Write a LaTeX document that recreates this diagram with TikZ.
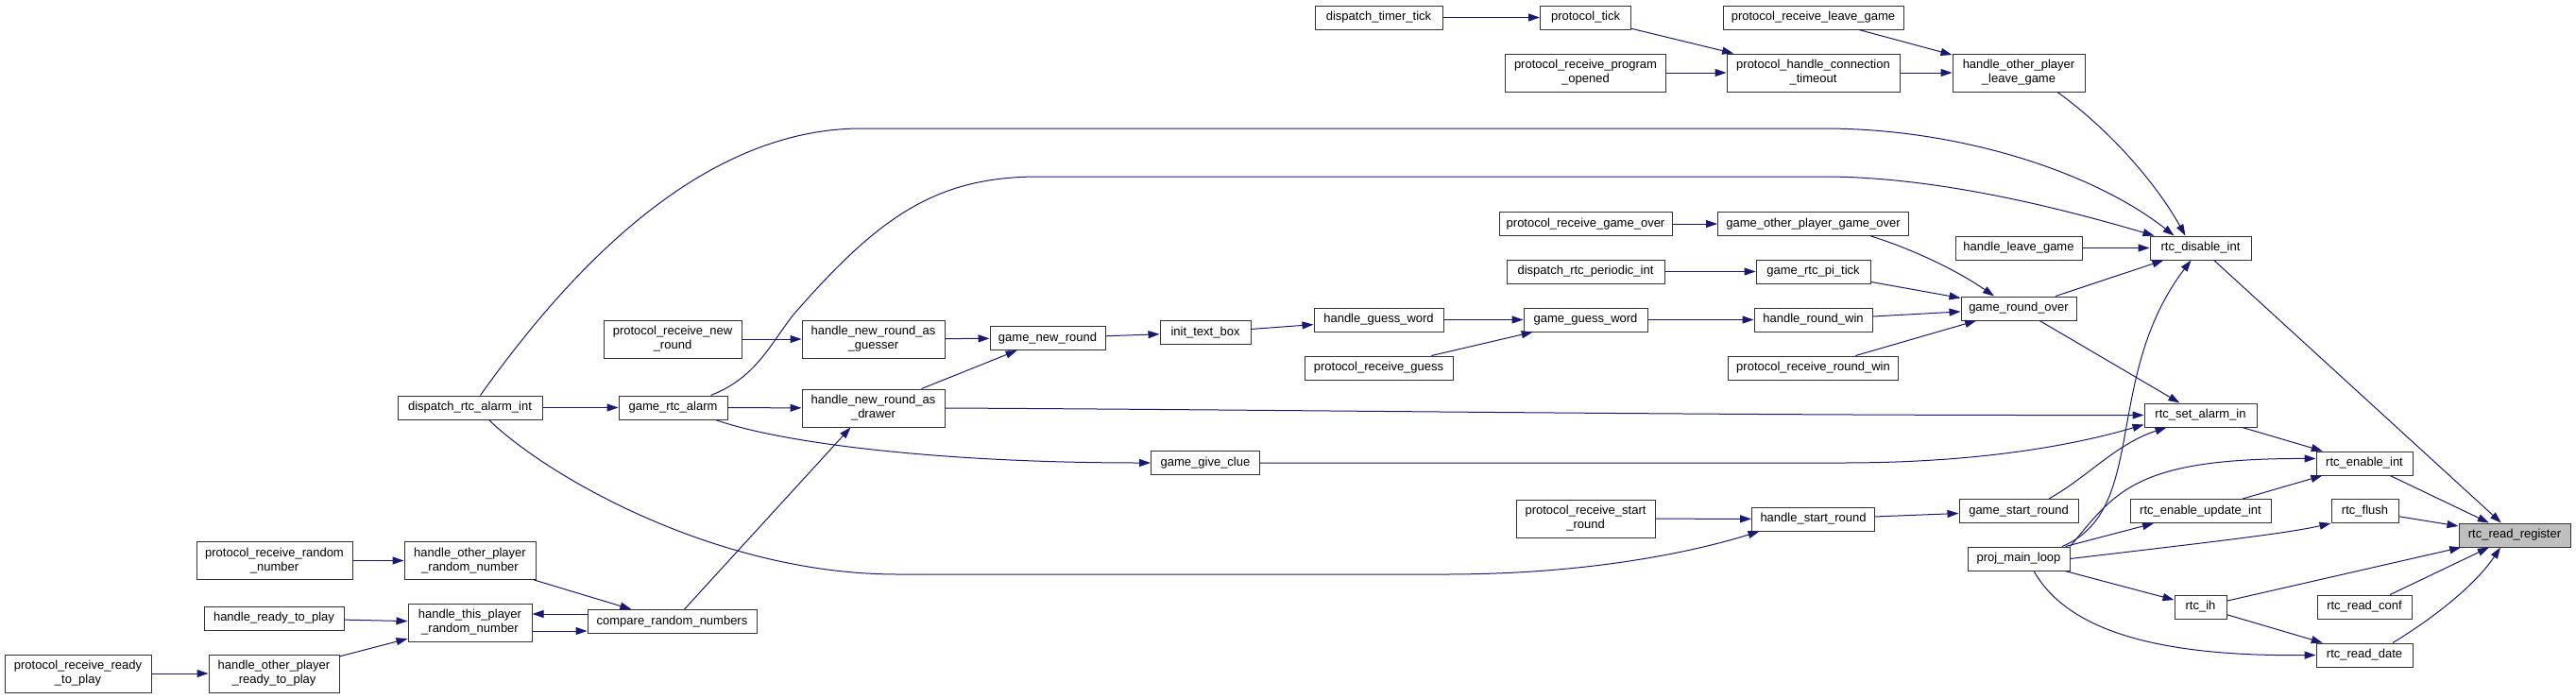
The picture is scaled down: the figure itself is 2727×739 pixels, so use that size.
\documentclass[tikz,border=0pt]{standalone}
\usepackage{fontspec}
\setmainfont{Liberation Sans}
\usetikzlibrary{arrows.meta, calc, positioning}
\definecolor{callblue}{HTML}{191970}
\definecolor{rootgray}{HTML}{BFBFBF}

\begin{document}
\begin{tikzpicture}[x=1pt, y=-1pt,
    fn/.style={draw=black!80, fill=white, line width=1pt, inner sep=0pt,
        minimum height=25, align=center, font=\fontsize{13}{15}\selectfont},
    tall/.style={minimum height=40},
    call/.style={draw=callblue, line width=1pt, -{Triangle[length=12pt, width=8pt]}}]
    \useasboundingbox (0,0) rectangle (2727,739);

    % rtc_read_register and the rtc functions
    \node[fn, fill=rootgray, minimum width=118] (rrr) at (2662,566.5) {rtc\_read\_register};
    \node[fn, minimum width=107] (rdi) at (2329.5,262.5) {rtc\_disable\_int};
    \node[fn, minimum width=119] (rsai) at (2329.5,439.5) {rtc\_set\_alarm\_in};
    \node[fn, minimum width=149] (reui) at (2329.5,541) {rtc\_enable\_update\_int};
    \node[fn, minimum width=55] (rih) at (2329.5,642.5) {rtc\_ih};
    \node[fn, minimum width=102] (rei) at (2503,490.5) {rtc\_enable\_int};
    \node[fn, minimum width=71] (rfl) at (2503.5,541) {rtc\_flush};
    \node[fn, minimum width=100] (rrc) at (2503,642.5) {rtc\_read\_conf};
    \node[fn, minimum width=102] (rrd) at (2503,693.5) {rtc\_read\_date};

    % column of game functions
    \node[fn, tall, minimum width=140] (hoplg) at (2137,77) {handle\_other\_player\\\_leave\_game};
    \node[fn, minimum width=134] (hlg) at (2137,262.5) {handle\_leave\_game};
    \node[fn, minimum width=122] (gro) at (2137,326.5) {game\_round\_over};
    \node[fn, minimum width=126] (gsr) at (2137,541) {game\_start\_round};
    \node[fn, minimum width=108] (pml) at (2137,591.5) {proj\_main\_loop};

    % protocol and handlers
    \node[fn, minimum width=191] (prlg) at (1919.5,18.5) {protocol\_receive\_leave\_game};
    \node[fn, tall, minimum width=183] (phct) at (1919.5,77) {protocol\_handle\_connection\\\_timeout};
    \node[fn, minimum width=202] (gopgo) at (1919.5,237) {game\_other\_player\_game\_over};
    \node[fn, minimum width=121] (grpt) at (1919.5,287.5) {game\_rtc\_pi\_tick};
    \node[fn, minimum width=125] (hrw) at (1919.5,338.5) {handle\_round\_win};
    \node[fn, minimum width=180] (prrw) at (1919.5,389.5) {protocol\_receive\_round\_win};
    \node[fn, minimum width=130] (hsr) at (1919.5,549.5) {handle\_start\_round};

    \node[fn, minimum width=96] (ptick) at (1678.5,18.5) {protocol\_tick};
    \node[fn, tall, minimum width=170] (prpo) at (1678.5,77) {protocol\_receive\_program\\\_opened};
    \node[fn, minimum width=183] (prgo) at (1678.5,237) {protocol\_receive\_game\_over};
    \node[fn, minimum width=167] (drpi) at (1678.5,287.5) {dispatch\_rtc\_periodic\_int};
    \node[fn, minimum width=131] (ggw) at (1678.5,338.5) {game\_guess\_word};
    \node[fn, tall, minimum width=147] (prsr) at (1678.5,549) {protocol\_receive\_start\\\_round};

    \node[fn, minimum width=135] (dtt) at (1459.5,18.5) {dispatch\_timer\_tick};
    \node[fn, minimum width=137] (hgw) at (1459.5,338.5) {handle\_guess\_word};
    \node[fn, minimum width=157] (prg) at (1459.5,389.5) {protocol\_receive\_guess};

    \node[fn, minimum width=96] (itb) at (1276,352) {init\_text\_box};
    \node[fn, minimum width=115] (ggc) at (1276,490) {game\_give\_clue};
    \node[fn, minimum width=122] (gnr) at (1109,358) {game\_new\_round};

    \node[fn, tall, minimum width=151] (hnrg) at (924.5,359) {handle\_new\_round\_as\\\_guesser};
    \node[fn, tall, minimum width=151] (hnrd) at (924.5,432) {handle\_new\_round\_as\\\_drawer};
    \node[fn, tall, minimum width=146] (prnr) at (712,359) {protocol\_receive\_new\\\_round};
    \node[fn, minimum width=115] (gra) at (712.5,431.5) {game\_rtc\_alarm};
    \node[fn, minimum width=179] (crn) at (711.5,658) {compare\_random\_numbers};
    \node[fn, minimum width=153] (draint) at (497.5,431.5) {dispatch\_rtc\_alarm\_int};

    % random number exchange
    \node[fn, tall, minimum width=139] (hoprn) at (497.5,593.5) {handle\_other\_player\\\_random\_number};
    \node[fn, tall, minimum width=131] (htprn) at (497.5,659) {handle\_this\_player\\\_random\_number};
    \node[fn, tall, minimum width=165] (prrn) at (290.5,593.5) {protocol\_receive\_random\\\_number};
    \node[fn, minimum width=148] (hrtp) at (290,654.5) {handle\_ready\_to\_play};
    \node[fn, tall, minimum width=138] (hoprtp) at (290,713) {handle\_other\_player\\\_ready\_to\_play};
    \node[fn, tall, minimum width=155] (prrtp) at (82.5,713) {protocol\_receive\_ready\\\_to\_play};

    % calls towards rtc_disable_int
    \draw[call] (dtt) -- (ptick);
    \draw[call] (ptick) -- (phct);
    \draw[call] (prpo) -- (phct);
    \draw[call] (prlg) -- (hoplg);
    \draw[call] (phct) -- (hoplg);
    \draw[call] ([xshift=41pt]hoplg.south) .. controls (2230,135) and (2280,190) .. ([xshift=-16pt]rdi.north);
    \draw[call] ([xshift=11pt]draint.north) .. controls (600,290) and (740,136) .. (912,136)
        -- (1930,136) .. controls (2080,136) and (2220,185) .. ([xshift=-28pt]rdi.north);
    \draw[call] ([xshift=40pt]gra.north) .. controls (800,400) and (815,365) .. (840,333)
        .. controls (930,230) and (990,187) .. (1100,187) -- (1930,187)
        .. controls (2050,187) and (2180,220) .. ([xshift=-49pt]rdi.north);
    \draw[call] (hlg) -- (rdi);
    \draw[call] (gro) -- (rdi);
    \draw[call] ([xshift=46pt]pml.north) .. controls (2275,540) and (2225,400) .. ([xshift=-10pt]rdi.south);
    \draw[call] (rdi) -- (rrr);

    % calls towards game_round_over
    \draw[call] (prgo) -- (gopgo);
    \draw[call] ([xshift=61pt]gopgo.south) .. controls (2020,262) and (2070,285) .. ([xshift=-26pt]gro.north);
    \draw[call] (drpi) -- (grpt);
    \draw[call] (grpt) -- (gro);
    \draw[call] (hrw) -- (gro);
    \draw[call] (prrw) -- (gro);
    \draw[call] (gro) -- (rsai);

    % guessing and new rounds
    \draw[call] (hgw) -- (ggw);
    \draw[call] (prg) -- (ggw);
    \draw[call] (ggw) -- (hrw);
    \draw[call] (itb) -- (hgw);
    \draw[call] (gnr) -- (itb);
    \draw[call] (hnrg) -- (gnr);
    \draw[call] (hnrd) -- (gnr);
    \draw[call] (prnr) -- (hnrg);
    \draw[call] (draint) -- (gra);
    \draw[call] (gra) -- (hnrd);
    \draw[call] ([xshift=45pt]gra.south) .. controls (830,470) and (1000,490) .. (ggc.west);
    \draw[call] (hnrd.east) .. controls (1400,434) and (1800,440) .. (rsai.west);
    \draw[call] (ggc.east) -- (1950,490) .. controls (2100,490) and (2200,470) .. ([yshift=3pt]rsai.south west);
    \draw[call] ([xshift=32pt]gsr.north) .. controls (2210,505) and (2240,470) .. ([xshift=-36pt]rsai.south);

    % rtc_enable_int, rtc_flush, rtc_ih, rtc_read_date
    \draw[call] (rsai) -- (rei);
    \draw[call] (pml.north east) .. controls (2240,520) and (2260,485) .. ([yshift=5pt]rei.west);
    \draw[call] (reui) -- (rei);
    \draw[call] (rei) -- (rrr);
    \draw[call] (rfl) -- (rrr);
    \draw[call] (pml) -- (reui);
    \draw[call] (pml.east) .. controls (2330,575) and (2420,565) .. (rfl.south west);
    \draw[call] (pml) -- (rih);
    \draw[call] ([xshift=16pt]pml.south) .. controls (2190,670) and (2290,695) .. (rrd.west);
    \draw[call] (rih) -- (rrr);
    \draw[call] (rih) -- (rrd);
    \draw[call] (rrc) -- (rrr);
    \draw[call] ([xshift=30pt]rrd.north) .. controls (2575,655) and (2620,620) .. ([xshift=-15pt]rrr.south);

    % start of round
    \draw[call] (hsr) -- (gsr);
    \draw[call] (prsr) -- (hsr);
    \draw[call] ([xshift=20pt]draint.south) .. controls (580,505) and (760,608) .. (950,608)
        -- (1530,608) .. controls (1680,608) and (1790,585) .. ([xshift=-57pt]hsr.south);

    % random numbers
    \draw[call] ([xshift=13pt]crn.north) -- ([xshift=-24pt]hnrd.south);
    \draw[call] (hoprn) -- (crn);
    \draw[call] ([yshift=8pt]crn.west) -- ([yshift=8pt]crn.west -| htprn.east);
    \draw[call] ([yshift=-9pt]htprn.east) -- ([yshift=-9pt]htprn.east -| crn.west);
    \draw[call] (hrtp) -- (htprn);
    \draw[call] (hoprtp) -- (htprn);
    \draw[call] (prrtp) -- (hoprtp);
    \draw[call] (prrn) -- (hoprn);
\end{tikzpicture}
\end{document}
